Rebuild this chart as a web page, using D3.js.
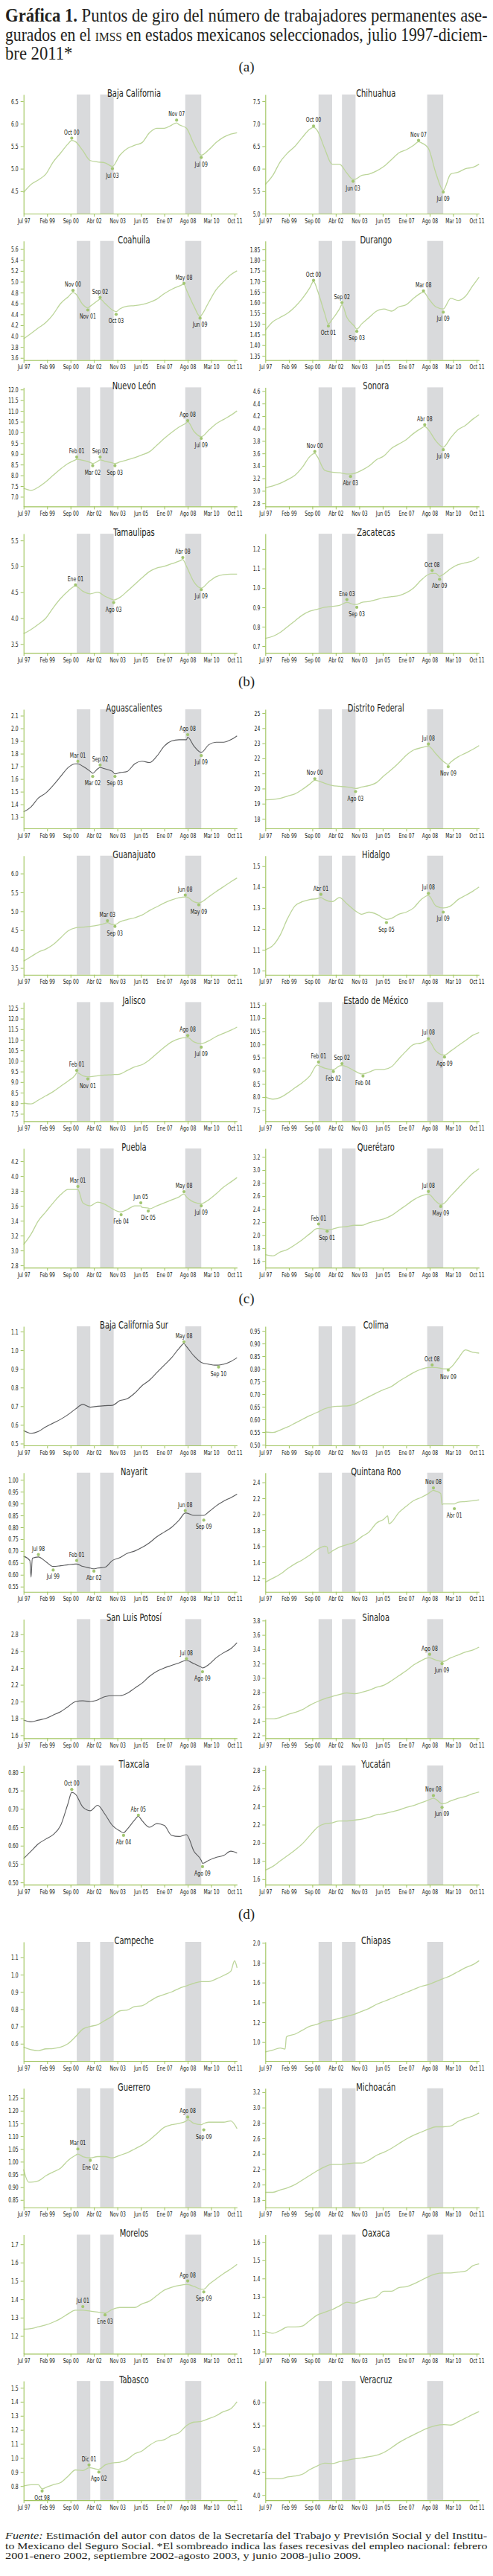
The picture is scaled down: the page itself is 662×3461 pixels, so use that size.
<!DOCTYPE html>
<html>
<head>
<meta charset="utf-8">
<script src="https://cdn.jsdelivr.net/npm/d3@7"></script>
<style>
  body { margin: 0; background: #fff; }
</style>
</head>
<body>
<svg id="chart" width="662" height="3461"></svg>
<script>
// ---------------- data ----------------
var months = ["1997-07","1998-01","1998-07","1999-01","1999-07","2000-01","2000-07","2001-01","2001-07","2002-01",
              "2002-07","2003-01","2003-07","2004-01","2004-07","2005-01","2005-07","2006-01","2006-07","2007-01",
              "2007-07","2008-01","2008-07","2009-01","2009-07","2010-01","2010-07","2011-01","2011-07","2011-12"];

var tickDates  = ["1997-07","1999-02","2000-09","2002-04","2003-11","2005-06","2007-01","2008-08","2010-03","2011-10"];
var tickLabels = ["Jul 97","Feb 99","Sep 00","Abr 02","Nov 03","Jun 05","Ene 07","Ago 08","Mar 10","Oct 11"];

var recessions = [["2001-02","2002-01"],["2002-09","2003-08"],["2008-06","2009-07"]];

var sectionLabels = ["(a)","(b)","(c)","(d)"];

var states = ["Baja California","Chihuahua","Coahuila","Durango","Nuevo León","Sonora","Tamaulipas","Zacatecas",
              "Aguascalientes","Distrito Federal","Guanajuato","Hidalgo","Jalisco","Estado de México","Puebla","Querétaro",
              "Baja California Sur","Colima","Nayarit","Quintana Roo","San Luis Potosí","Sinaloa","Tlaxcala","Yucatán",
              "Campeche","Chiapas","Guerrero","Michoacán","Morelos","Oaxaca","Tabasco","Veracruz"];

var yDomains = [[4.0,6.65],[5.0,7.65],[3.56,5.75],[1.33,1.89],[6.55,12.1],[2.75,4.66],[3.33,5.63],[0.665,1.28],
                [1.21,2.15],[17.36,25.25],[3.32,6.47],[0.98,1.55],[7.15,12.78],[7.08,11.61],[2.77,4.37],[1.5,3.33],
                [0.49,1.128],[0.497,0.968],[0.528,1.03],[1.03,2.52],[1.565,2.98],[2.16,3.82],[0.494,0.818],[1.54,2.85],
                [0.5,1.19],[0.81,2.01],[0.821,1.288],[1.705,3.25],[1.103,1.752],[0.988,1.64],[0.7,1.547],[3.89,6.46]];

// first tick, last tick, step
var yTicks = [[4.5,6.5,0.5],[5.0,7.5,0.5],[3.6,5.6,0.2],[1.35,1.85,0.05],[7.0,12.0,0.5],[2.8,4.6,0.2],[3.5,5.5,0.5],[0.7,1.2,0.1],
              [1.3,2.1,0.1],[18,25,1],[3.5,6.0,0.5],[1.0,1.5,0.1],[7.5,12.5,0.5],[7.5,11.5,0.5],[2.8,4.2,0.2],[1.6,3.2,0.2],
              [0.5,1.1,0.1],[0.5,0.95,0.05],[0.55,1.0,0.05],[1.2,2.4,0.2],[1.6,2.8,0.2],[2.2,3.8,0.2],[0.5,0.8,0.05],[1.6,2.8,0.2],
              [0.6,1.1,0.1],[1.0,2.0,0.2],[0.85,1.25,0.05],[1.8,3.2,0.2],[1.2,1.7,0.1],[1.0,1.6,0.1],[0.8,1.5,0.1],[4.0,6.0,0.5]];

var darkLines = ["Aguascalientes","Baja California Sur","Nayarit","San Luis Potosí","Tlaxcala"];

// millones de trabajadores, valores semestrales (months)
var bajaCalifornia   = [4.47,4.65,4.75,4.88,5.15,5.35,5.55,5.60,5.40,5.18,5.15,5.13,5.05,5.30,5.45,5.52,5.58,5.80,5.90,5.90,5.97,5.98,5.90,5.55,5.28,5.42,5.58,5.70,5.77,5.80];
var chihuahua        = [5.65,5.85,6.15,6.35,6.50,6.70,6.88,6.85,6.45,6.10,6.10,5.90,5.76,5.85,5.88,5.95,6.05,6.20,6.35,6.42,6.52,6.58,6.45,5.90,5.52,5.88,5.92,6.00,6.03,6.10];
var coahuila         = [3.95,4.05,4.15,4.25,4.40,4.60,4.72,4.78,4.58,4.55,4.65,4.60,4.48,4.50,4.55,4.56,4.58,4.62,4.68,4.78,4.86,4.92,4.85,4.55,4.38,4.62,4.85,5.00,5.13,5.20];
var durango          = [1.47,1.51,1.53,1.55,1.58,1.62,1.67,1.66,1.55,1.52,1.57,1.53,1.49,1.50,1.53,1.56,1.57,1.56,1.58,1.59,1.62,1.645,1.62,1.58,1.57,1.62,1.61,1.63,1.68,1.72];
var nuevoLeon        = [7.40,7.30,7.45,7.70,8.00,8.30,8.55,8.72,8.70,8.60,8.65,8.65,8.58,8.62,8.72,8.82,8.95,9.10,9.40,9.72,10.00,10.25,10.45,10.05,9.80,10.10,10.40,10.60,10.80,11.00];
var sonora           = [3.05,3.08,3.12,3.18,3.25,3.38,3.55,3.55,3.33,3.30,3.29,3.27,3.28,3.33,3.40,3.50,3.56,3.68,3.75,3.82,3.92,4.00,3.98,3.80,3.70,3.85,3.98,4.05,4.15,4.22];
var tamaulipas       = [3.70,3.78,3.88,4.00,4.20,4.38,4.52,4.62,4.52,4.47,4.50,4.42,4.36,4.40,4.52,4.65,4.78,4.90,4.97,5.00,5.05,5.10,5.00,4.70,4.58,4.70,4.80,4.84,4.85,4.85];
var zacatecas        = [0.74,0.75,0.77,0.80,0.83,0.86,0.88,0.89,0.90,0.905,0.91,0.925,0.915,0.925,0.93,0.94,0.95,0.955,0.96,0.975,1.00,1.04,1.07,1.075,1.07,1.10,1.12,1.13,1.14,1.16];
var aguascalientes   = [1.34,1.38,1.45,1.49,1.55,1.62,1.69,1.72,1.70,1.66,1.68,1.68,1.66,1.65,1.66,1.72,1.74,1.73,1.78,1.86,1.90,1.91,1.91,1.86,1.81,1.87,1.89,1.89,1.91,1.94];
var distritoFederal  = [19.25,19.28,19.35,19.50,19.65,19.95,20.30,20.52,20.35,20.20,20.15,20.10,20.02,20.10,20.20,20.40,20.85,21.25,21.70,22.20,22.55,22.70,22.80,22.30,21.80,21.75,22.10,22.35,22.60,22.85];
var guanajuato       = [3.68,3.80,3.92,4.00,4.12,4.30,4.48,4.56,4.58,4.60,4.63,4.68,4.65,4.72,4.78,4.83,4.90,5.02,5.12,5.22,5.30,5.36,5.38,5.25,5.24,5.38,5.52,5.65,5.78,5.88];
var hidalgo          = [1.10,1.12,1.17,1.25,1.31,1.33,1.34,1.345,1.34,1.33,1.35,1.32,1.29,1.27,1.28,1.27,1.25,1.25,1.27,1.28,1.30,1.34,1.36,1.31,1.30,1.31,1.34,1.36,1.38,1.40];
var jalisco          = [8.00,7.97,8.15,8.35,8.55,8.80,9.05,9.35,9.30,9.25,9.30,9.33,9.35,9.38,9.55,9.72,9.82,10.05,10.35,10.65,10.90,11.05,11.10,10.90,10.82,10.95,11.15,11.30,11.45,11.60];
var estadoMexico     = [8.00,7.92,7.98,8.15,8.35,8.55,8.80,9.22,9.10,9.05,9.18,9.15,9.00,8.88,8.95,9.05,9.05,9.15,9.45,9.75,10.00,10.05,10.15,9.75,9.60,9.75,9.95,10.15,10.35,10.45];
var puebla           = [3.08,3.22,3.40,3.52,3.64,3.75,3.82,3.82,3.64,3.60,3.65,3.62,3.56,3.52,3.55,3.60,3.58,3.56,3.60,3.64,3.68,3.72,3.72,3.65,3.63,3.68,3.76,3.85,3.92,3.98];
var queretaro        = [1.70,1.68,1.74,1.78,1.85,1.93,2.02,2.10,2.09,2.09,2.12,2.13,2.15,2.15,2.19,2.22,2.25,2.30,2.38,2.46,2.54,2.60,2.63,2.52,2.48,2.60,2.72,2.84,2.95,3.02];
var bajaCaliforniaSur= [0.57,0.555,0.565,0.59,0.61,0.63,0.655,0.685,0.71,0.695,0.70,0.703,0.705,0.73,0.74,0.77,0.81,0.84,0.88,0.92,0.96,1.01,1.02,0.97,0.935,0.925,0.92,0.925,0.94,0.96];
var colima           = [0.550,0.548,0.558,0.570,0.585,0.600,0.615,0.628,0.642,0.650,0.652,0.653,0.660,0.675,0.690,0.705,0.718,0.730,0.750,0.768,0.785,0.798,0.805,0.805,0.800,0.805,0.840,0.875,0.865,0.862];
var nayarit          = [0.678,0.59,0.675,0.655,0.635,0.638,0.642,0.645,0.635,0.628,0.628,0.632,0.66,0.672,0.69,0.70,0.715,0.735,0.76,0.78,0.80,0.83,0.86,0.85,0.85,0.865,0.89,0.91,0.925,0.94];
var quintanaRoo      = [1.15,1.20,1.25,1.32,1.38,1.43,1.49,1.56,1.60,1.54,1.59,1.62,1.65,1.72,1.78,1.89,1.94,1.90,2.02,2.10,2.17,2.21,2.26,2.29,2.13,2.13,2.15,2.16,2.17,2.18];
var sanLuisPotosi    = [1.78,1.76,1.78,1.80,1.84,1.88,1.94,2.00,2.01,2.00,2.02,2.06,2.07,2.07,2.10,2.16,2.22,2.30,2.36,2.40,2.43,2.46,2.49,2.45,2.41,2.44,2.52,2.58,2.63,2.70];
var sinaloa          = [2.43,2.43,2.45,2.49,2.52,2.56,2.62,2.67,2.71,2.74,2.77,2.79,2.78,2.80,2.83,2.87,2.90,2.96,3.03,3.10,3.18,3.24,3.28,3.25,3.23,3.28,3.32,3.36,3.39,3.43];
var tlaxcala         = [0.565,0.585,0.605,0.618,0.630,0.655,0.715,0.740,0.705,0.695,0.71,0.685,0.655,0.64,0.645,0.67,0.668,0.65,0.66,0.655,0.628,0.625,0.63,0.585,0.56,0.56,0.568,0.573,0.585,0.58];
var yucatan          = [1.70,1.74,1.80,1.86,1.92,1.99,2.08,2.17,2.21,2.22,2.24,2.24,2.25,2.26,2.28,2.31,2.32,2.34,2.36,2.39,2.41,2.44,2.47,2.48,2.43,2.46,2.49,2.51,2.54,2.56];
var campeche         = [0.58,0.565,0.56,0.57,0.572,0.58,0.60,0.64,0.685,0.70,0.71,0.735,0.76,0.79,0.795,0.815,0.82,0.845,0.87,0.885,0.90,0.92,0.935,0.95,0.96,0.96,0.975,0.995,1.02,1.04];
var chiapas          = [0.90,0.92,0.94,1.06,1.08,1.12,1.16,1.18,1.21,1.22,1.24,1.26,1.28,1.31,1.34,1.38,1.41,1.44,1.47,1.50,1.53,1.56,1.58,1.61,1.64,1.67,1.71,1.75,1.78,1.82];
var guerrero         = [0.97,0.92,0.925,0.945,0.96,0.975,1.005,1.025,1.02,1.015,1.02,1.02,1.015,1.025,1.035,1.05,1.065,1.085,1.11,1.135,1.145,1.15,1.16,1.15,1.145,1.155,1.155,1.155,1.16,1.13];
var michoacan        = [1.90,1.90,1.93,1.96,2.00,2.06,2.12,2.18,2.23,2.26,2.26,2.27,2.28,2.28,2.32,2.38,2.42,2.47,2.53,2.59,2.64,2.68,2.72,2.75,2.75,2.76,2.82,2.86,2.89,2.93];
var morelos          = [1.237,1.24,1.25,1.26,1.275,1.295,1.32,1.34,1.34,1.335,1.33,1.325,1.345,1.355,1.355,1.355,1.375,1.39,1.42,1.45,1.465,1.475,1.48,1.47,1.455,1.48,1.51,1.54,1.565,1.59];
var oaxaca           = [1.11,1.10,1.115,1.135,1.135,1.14,1.17,1.20,1.215,1.23,1.25,1.27,1.265,1.28,1.29,1.30,1.33,1.33,1.35,1.355,1.37,1.39,1.41,1.425,1.43,1.43,1.435,1.44,1.47,1.48];
var tabasco          = [0.80,0.81,0.81,0.79,0.81,0.825,0.87,0.915,0.91,0.93,0.92,0.95,0.965,0.97,0.99,1.03,1.05,1.09,1.12,1.13,1.16,1.18,1.23,1.255,1.26,1.28,1.30,1.33,1.35,1.40];
var veracruz         = [4.35,4.35,4.35,4.39,4.41,4.45,4.55,4.63,4.69,4.68,4.72,4.75,4.78,4.80,4.83,4.86,4.92,5.02,5.13,5.22,5.30,5.38,5.45,5.50,5.52,5.51,5.58,5.66,5.74,5.80];

var seriesValues = [bajaCalifornia, chihuahua, coahuila, durango, nuevoLeon, sonora, tamaulipas, zacatecas,
                    aguascalientes, distritoFederal, guanajuato, hidalgo, jalisco, estadoMexico, puebla, queretaro,
                    bajaCaliforniaSur, colima, nayarit, quintanaRoo, sanLuisPotosi, sinaloa, tlaxcala, yucatan,
                    campeche, chiapas, guerrero, michoacan, morelos, oaxaca, tabasco, veracruz];

// estado, mes, valor del punto, valor de la serie, etiqueta
var turningPoints = [
  ["Baja California","2000-10",5.68,5.63,"Oct 00"],["Baja California","2003-07",5.00,5.05,"Jul 03"],
  ["Baja California","2007-11",6.08,6.02,"Nov 07"],["Baja California","2009-07",5.25,5.30,"Jul 09"],
  ["Chihuahua","2000-10",6.95,6.92,"Oct 00"],["Chihuahua","2003-06",5.72,5.76,"Jun 03"],
  ["Chihuahua","2007-11",6.63,6.60,"Nov 07"],["Chihuahua","2009-07",5.48,5.52,"Jul 09"],
  ["Coahuila","2000-11",4.84,4.80,"Nov 00"],["Coahuila","2001-11",4.48,4.52,"Nov 01"],
  ["Coahuila","2002-09",4.71,4.68,"Sep 02"],["Coahuila","2003-10",4.40,4.45,"Oct 03"],
  ["Coahuila","2008-05",4.97,4.95,"May 08"],["Coahuila","2009-06",4.33,4.36,"Jun 09"],
  ["Durango","2000-10",1.705,1.70,"Oct 00"],["Durango","2001-10",1.49,1.50,"Oct 01"],
  ["Durango","2002-09",1.60,1.59,"Sep  02"],["Durango","2003-09",1.465,1.475,"Sep 03"],
  ["Durango","2008-03",1.655,1.65,"Mar 08"],["Durango","2009-07",1.555,1.57,"Jul 09"],
  ["Nuevo León","2001-02",8.85,8.75,"Feb 01"],["Nuevo León","2002-03",8.45,8.55,"Mar 02"],
  ["Nuevo León","2002-09",8.85,8.72,"Sep 02"],["Nuevo León","2003-09",8.45,8.55,"Sep 03"],
  ["Nuevo León","2008-08",10.55,10.50,"Ago 08"],["Nuevo León","2009-07",9.72,9.80,"Jul 09"],
  ["Sonora","2000-11",3.63,3.60,"Nov 00"],["Sonora","2003-04",3.23,3.27,"Abr 03"],
  ["Sonora","2008-04",4.06,4.03,"Abr 08"],["Sonora","2009-07",3.66,3.70,"Jul 09"],
  ["Tamaulipas","2001-01",4.64,4.62,"Ene 01"],["Tamaulipas","2003-08",4.30,4.35,"Ago 03"],
  ["Tamaulipas","2008-04",5.17,5.13,"Abr 08"],["Tamaulipas","2009-07",4.55,4.58,"Jul 09"],
  ["Zacatecas","2003-01",0.94,0.925,"Ene 03"],["Zacatecas","2003-09",0.90,0.915,"Sep 03"],
  ["Zacatecas","2008-10",1.09,1.075,"Oct 08"],["Zacatecas","2009-04",1.045,1.06,"Abr 09"],
  ["Aguascalientes","2001-03",1.74,1.72,"Mar 01"],["Aguascalientes","2002-03",1.62,1.645,"Mar 02"],
  ["Aguascalientes","2002-09",1.71,1.69,"Sep 02"],["Aguascalientes","2003-09",1.62,1.64,"Sep 03"],
  ["Aguascalientes","2008-08",1.95,1.93,"Ago 08"],["Aguascalientes","2009-07",1.785,1.81,"Jul 09"],
  ["Distrito Federal","2000-11",20.65,20.55,"Nov 00"],["Distrito Federal","2003-08",19.80,20.00,"Ago 03"],
  ["Distrito Federal","2008-07",22.95,22.80,"Jul 08"],["Distrito Federal","2009-11",21.45,21.60,"Nov 09"],
  ["Guanajuato","2003-03",4.75,4.70,"Mar 03"],["Guanajuato","2003-09",4.60,4.65,"Sep 03"],
  ["Guanajuato","2008-06",5.43,5.38,"Jun 08"],["Guanajuato","2009-05",5.17,5.22,"May 09"],
  ["Hidalgo","2001-04",1.365,1.35,"Abr 01"],["Hidalgo","2005-09",1.23,1.245,"Sep 05"],
  ["Hidalgo","2008-07",1.37,1.36,"Jul 08"],["Hidalgo","2009-07",1.28,1.30,"Jul 09"],
  ["Jalisco","2001-02",9.55,9.45,"Feb 01"],["Jalisco","2001-11",9.15,9.25,"Nov 01"],
  ["Jalisco","2008-08",11.20,11.10,"Ago 08"],["Jalisco","2009-07",10.65,10.82,"Jul 09"],
  ["Estado de México","2001-02",9.33,9.20,"Feb 01"],["Estado de México","2002-02",8.97,9.05,"Feb 02"],
  ["Estado de México","2002-09",9.27,9.20,"Sep 02"],["Estado de México","2004-02",8.80,8.88,"Feb 04"],
  ["Estado de México","2008-07",10.22,10.15,"Jul 08"],["Estado de México","2009-08",9.52,9.60,"Ago 09"],
  ["Puebla","2001-03",3.86,3.82,"Mar 01"],["Puebla","2004-02",3.48,3.52,"Feb 04"],
  ["Puebla","2005-06",3.64,3.60,"Jun 05"],["Puebla","2005-12",3.53,3.57,"Dic 05"],
  ["Puebla","2008-05",3.79,3.76,"May 08"],["Puebla","2009-07",3.60,3.63,"Jul 09"],
  ["Querétaro","2001-02",2.17,2.10,"Feb 01"],["Querétaro","2001-09",2.06,2.08,"Sep 01"],
  ["Querétaro","2008-07",2.67,2.63,"Jul 08"],["Querétaro","2009-05",2.44,2.47,"May 09"],
  ["Baja California Sur","2008-05",1.045,1.035,"May 08"],["Baja California Sur","2010-09",0.91,0.92,"Sep 10"],
  ["Colima","2008-10",0.815,0.805,"Oct 08"],["Colima","2009-11",0.795,0.80,"Nov 09"],
  ["Nayarit","1998-07",0.685,0.675,"Jul 98"],["Nayarit","1999-07",0.62,0.635,"Jul 99"],
  ["Nayarit","2001-02",0.66,0.645,"Feb 01"],["Nayarit","2002-04",0.615,0.625,"Abr 02"],
  ["Nayarit","2008-06",0.87,0.86,"Jun 08"],["Nayarit","2009-09",0.83,0.85,"Sep 09"],
  ["Quintana Roo","2008-11",2.33,2.30,"Nov 08"],["Quintana Roo","2010-04",2.07,2.13,"Abr 01"],
  ["San Luis Potosí","2008-07",2.51,2.49,"Jul 08"],["San Luis Potosí","2009-08",2.355,2.40,"Ago 09"],
  ["Sinaloa","2008-08",3.33,3.28,"Ago 08"],["Sinaloa","2009-06",3.20,3.23,"Jun 09"],
  ["Tlaxcala","2000-10",0.753,0.745,"Oct 00"],["Tlaxcala","2004-04",0.628,0.635,"Abr 04"],
  ["Tlaxcala","2005-04",0.683,0.68,"Abr 05"],["Tlaxcala","2009-08",0.543,0.552,"Ago 09"],
  ["Yucatán","2008-11",2.52,2.49,"Nov 08"],["Yucatán","2009-06",2.39,2.43,"Jun 09"],
  ["Guerrero","2001-03",1.05,1.03,"Mar 01"],["Guerrero","2002-01",1.005,1.015,"Ene 02"],
  ["Guerrero","2008-08",1.175,1.165,"Ago 08"],["Guerrero","2009-09",1.125,1.15,"Sep 09"],
  ["Morelos","2001-07",1.36,1.34,"Jul 01"],["Morelos","2003-01",1.315,1.325,"Ene 03"],
  ["Morelos","2008-08",1.50,1.48,"Ago 08"],["Morelos","2009-09",1.44,1.455,"Sep 09"],
  ["Tabasco","1998-10",0.765,0.78,"Oct 98"],["Tabasco","2001-12",0.95,0.93,"Dic 01"],
  ["Tabasco","2002-08",0.90,0.92,"Ago 02"]
];

// picos y caídas de un mes que no caen en la malla semestral
var extraPoints = [
  ["Nayarit","1997-12",0.66],["Nayarit","1998-02",0.67],
  ["Quintana Roo","2001-09",1.59],["Quintana Roo","2001-10",1.51],["Quintana Roo","2005-10",1.98],
  ["Quintana Roo","2005-11",1.88],["Quintana Roo","2009-05",2.26],["Quintana Roo","2009-06",2.12],
  ["Chiapas","1998-11",0.93],["Chiapas","1998-12",1.05],
  ["Campeche","2011-10",1.08],
  ["Guerrero","1997-11",0.92]
];

// ---------------- drawing ----------------
var SANS = "'Liberation Sans Narrow','DejaVu Sans Condensed','Open Sans',sans-serif";
var SERIF = "'Liberation Serif','DejaVu Serif',serif";
var INK = "#231f20", AXIS = "#9fc45c", GREEN = "#bcd59a", DOT = "#a2c672", DARK = "#5b5c5e", BAND = "#d9dadc";

var svg = d3.select("#chart");
var parse = d3.timeParse("%Y-%m");

function natural(str, size, family) {
  var t = svg.append("text").attr("font-family", family).attr("font-size", size).text(str);
  var w = t.node().getComputedTextLength();
  t.remove();
  return w;
}
function squeeze(sel, k) {
  sel.each(function () {
    var w = this.getComputedTextLength();
    d3.select(this).attr("textLength", w * k).attr("lengthAdjust", "spacingAndGlyphs");
  });
}
// stretch/shrink a whole line horizontally, starting at x
function fitLine(text, x, y, k) {
  text.attr("x", 0).attr("y", 0).attr("transform", "translate(" + x + "," + y + ") scale(" + k + ",1)");
}

// anchos medidos en la figura original
var kTitle = 72 / natural("Baja California", 14, SANS);
var kTick = 17 / natural("Jul 97", 9.5, SANS);
var kTurn = 20.5 / natural("Oct 00", 9.5, SANS);

// title
var LINE_W = 648;
var title = svg.append("g").attr("font-family", SERIF).attr("fill", INK).attr("font-size", 24.5);
var t1 = title.append("text");
t1.append("tspan").attr("font-weight", "bold").text("Gráfica 1.");
t1.append("tspan").text(" Puntos de giro del número de trabajadores permanentes ase-");
var kSerif = LINE_W / t1.node().getComputedTextLength();
fitLine(t1, 7, 29, kSerif);
var t2 = title.append("text");
t2.append("tspan").text("gurados en el ");
t2.append("tspan").attr("font-size", 17.5).text("IMSS");
t2.append("tspan").text(" en estados mexicanos seleccionados, julio 1997-diciem-");
fitLine(t2, 7, 55, LINE_W / t2.node().getComputedTextLength());
var t3 = title.append("text").text("bre 2011*");
fitLine(t3, 7, 80, kSerif);

var sectionTops = [127, 953, 1782, 2609];
var rowPitch = 196.7, plotH = 160;
var colRanges = [[31.7, 318.3], [356.3, 643.3]];
var xDomain = [parse("1997-07"), parse("2011-12")];

sectionLabels.forEach(function (lab, s) {
  svg.append("text").attr("x", 331).attr("y", sectionTops[s] - 31)
    .attr("text-anchor", "middle").attr("font-family", SERIF).attr("font-size", 19)
    .attr("fill", INK).text(lab);
});

states.forEach(function (name, i) {
  var sec = Math.floor(i / 8), row = Math.floor((i % 8) / 2), col = i % 2;
  var top = sectionTops[sec] + row * rowPitch, bottom = top + plotH;
  var x = d3.scaleTime().domain(xDomain).range(colRanges[col]);
  var y = d3.scaleLinear().domain(yDomains[i]).range([bottom, top]);
  var g = svg.append("g");

  g.selectAll("rect").data(recessions).join("rect")
    .attr("x", function (d) { return x(parse(d[0])); })
    .attr("width", function (d) { return x(parse(d[1])) - x(parse(d[0])); })
    .attr("y", top).attr("height", plotH).attr("fill", BAND);

  // series: semestral grid + turning points + one-month extras
  var turns = turningPoints.filter(function (d) { return d[0] === name; });
  var pts = new Map();
  seriesValues[i].forEach(function (v, j) { pts.set(months[j], v); });
  turns.forEach(function (d) { pts.set(d[1], d[3]); });
  extraPoints.filter(function (d) { return d[0] === name; }).forEach(function (d) { pts.set(d[1], d[2]); });
  var line = Array.from(pts, function (p) { return { date: parse(p[0]), value: p[1] }; })
    .sort(function (a, b) { return a.date - b.date; });

  var dark = darkLines.indexOf(name) >= 0;
  g.append("path").datum(line)
    .attr("fill", "none")
    .attr("stroke", dark ? DARK : GREEN)
    .attr("stroke-width", dark ? 1.1 : 1.3)
    .attr("d", d3.line().curve(d3.curveMonotoneX)
      .x(function (d) { return x(d.date); }).y(function (d) { return y(d.value); }));

  // axes
  var tk = yTicks[i];
  var vals = d3.range(tk[0], tk[1] + tk[2] / 2, tk[2]).map(function (v) { return +v.toFixed(3); });
  var fmt = tk[2] < 0.1 ? ".2f" : (tk[2] < 1 ? ".1f" : ".0f");
  var ya = g.append("g").attr("transform", "translate(" + colRanges[col][0] + ",0)")
    .call(d3.axisLeft(y).tickValues(vals).tickFormat(d3.format(fmt)).tickSize(4).tickPadding(3).tickSizeOuter(0));
  var xa = g.append("g").attr("transform", "translate(0," + bottom + ")")
    .call(d3.axisBottom(x).tickValues(tickDates.map(parse))
      .tickFormat(function (d, k) { return tickLabels[k]; }).tickSize(4).tickPadding(2).tickSizeOuter(0));
  [ya, xa].forEach(function (a) {
    a.attr("color", AXIS).attr("font-family", SANS).attr("font-size", 9.5);
    a.select(".domain").attr("stroke-width", 1.1);
    a.selectAll("text").attr("fill", INK);
    squeeze(a.selectAll("text"), kTick);
  });

  // title of panel
  var tt = g.append("text").attr("x", (colRanges[col][0] + colRanges[col][1]) / 2 + 5).attr("y", top + 3)
    .attr("text-anchor", "middle").attr("font-family", SANS).attr("font-size", 14).attr("fill", INK).text(name);
  squeeze(tt, kTitle);

  // turning points
  turns.forEach(function (d, k) {
    var prev = turns[k - 1], next = turns[k + 1];
    var peak = (!prev || d[2] > prev[2]) && (!next || d[2] > next[2]);
    var cx = x(parse(d[1])), cy = y(d[2]);
    g.append("circle").attr("cx", cx).attr("cy", cy).attr("r", 2.1).attr("fill", DOT);
    var lt = g.append("text").attr("x", cx).attr("y", peak ? cy - 5 : cy + 12)
      .attr("text-anchor", "middle").attr("font-family", SANS).attr("font-size", 9.5)
      .attr("fill", INK).text(d[4]);
    squeeze(lt, kTurn);
  });
});

// footnote
var foot = svg.append("g").attr("font-family", SERIF).attr("font-size", 13).attr("fill", INK);
var f1 = foot.append("text");
f1.append("tspan").attr("font-style", "italic").text("Fuente:");
f1.append("tspan").text(" Estimación del autor con datos de la Secretaría del Trabajo y Previsión Social y del Institu-");
var kFoot = LINE_W / f1.node().getComputedTextLength();
fitLine(f1, 7, 3411, kFoot);
var f2 = foot.append("text")
  .text("to Mexicano del Seguro Social. *El sombreado indica las fases recesivas del empleo nacional: febrero");
fitLine(f2, 7, 3424.5, LINE_W / f2.node().getComputedTextLength());
var f3 = foot.append("text").text("2001-enero 2002, septiembre 2002-agosto 2003, y junio 2008-julio 2009.");
fitLine(f3, 7, 3438, kFoot);
</script>
</body>
</html>
